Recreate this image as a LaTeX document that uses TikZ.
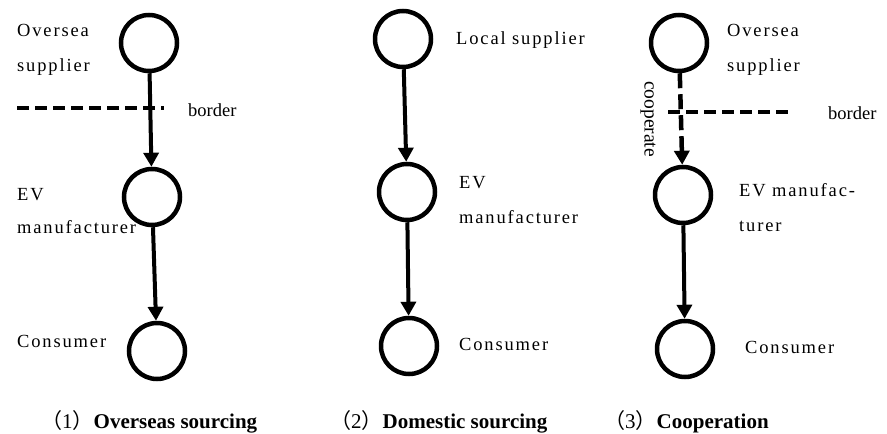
\documentclass[tikz,border=0pt]{standalone}
\usepackage{fontspec}
\setmainfont{Liberation Serif}
\newfontfamily\lsp[LetterSpace=10]{Liberation Serif}
\newfontfamily\cjk{Noto Sans CJK SC}
\usetikzlibrary{arrows.meta}
\begin{document}
\begin{tikzpicture}[x=1pt,y=-1pt,
  circ/.style={circle,draw,line width=4.5pt,minimum size=56pt,inner sep=0pt},
  lbl/.style={anchor=base west,inner sep=0pt,font=\lsp\fontsize{18.5}{22}\selectfont},
  bord/.style={anchor=base west,inner sep=0pt,font=\fontsize{18.5}{22}\selectfont},
  captxt/.style={anchor=base west,inner sep=0pt,font=\fontsize{21}{25}\selectfont},
  flow/.style={line width=4pt,-{Triangle[length=14pt,width=15pt]}},
  bline/.style={line width=3.5pt,dash pattern=on 12pt off 6pt},
  coop/.style={line width=4.5pt,dash pattern=on 15pt off 6pt,-{Triangle[length=14pt,width=15pt]}}]
\useasboundingbox (0,0) rectangle (887,434);
% column 1
\node[circ] (os1) at (149,43) {};
\node[circ] (ev1) at (152,197) {};
\node[circ] (cn1) at (157,351) {};
\draw[flow] (os1) -- (ev1);
\draw[flow] (ev1) -- (cn1);
\coordinate (b1s) at (17,108);
\coordinate (b1e) at (164,108);
\draw[bline] (b1s) -- (b1e);
\node[bord] (bt1) at (188,116) {border};
\node[lbl] (l1a) at (17,36) {Oversea};
\node[lbl] (l1b) at (17,71) {supplier};
\node[lbl] (l1c) at (17,200) {EV};
\node[lbl] (l1d) at (17,233) {manufacturer};
\node[lbl] (l1e) at (17,347) {Consumer};
\node[captxt] (c1) at (41,428) {{\cjk （}1{\cjk ）}\textbf{Overseas sourcing}};
% column 2
\node[circ] (os2) at (403,39) {};
\node[circ] (ev2) at (407,192) {};
\node[circ] (cn2) at (409,346) {};
\draw[flow] (os2) -- (ev2);
\draw[flow] (ev2) -- (cn2);
\node[lbl] (l2a) at (456,44) {Local supplier};
\node[lbl] (l2b) at (459,188) {EV};
\node[lbl] (l2c) at (459,223) {manufacturer};
\node[lbl] (l2d) at (459,350) {Consumer};
\node[captxt] (c2) at (330,428) {{\cjk （}2{\cjk ）}\textbf{Domestic sourcing}};
% column 3
\node[circ] (os3) at (679,43) {};
\node[circ] (ev3) at (683,195) {};
\node[circ] (cn3) at (685,349) {};
\draw[coop] (os3) -- (ev3);
\draw[flow] (ev3) -- (cn3);
\coordinate (b3s) at (668,112);
\coordinate (b3e) at (793,112);
\draw[bline] (b3s) -- (b3e);
\node[bord] (bt3) at (828,119) {border};
\node[rotate=-90,inner sep=0pt,font=\fontsize{19.5}{23}\selectfont] (cp) at (648,119) {cooperate};
\node[lbl] (l3a) at (727,36) {Oversea};
\node[lbl] (l3b) at (727,71) {supplier};
\node[lbl] (l3c) at (739,196) {EV manufac-};
\node[lbl] (l3d) at (739,231) {turer};
\node[lbl] (l3e) at (745,353) {Consumer};
\node[captxt] (c3) at (604,428) {{\cjk （}3{\cjk ）}\textbf{Cooperation}};
\end{tikzpicture}
\end{document}
